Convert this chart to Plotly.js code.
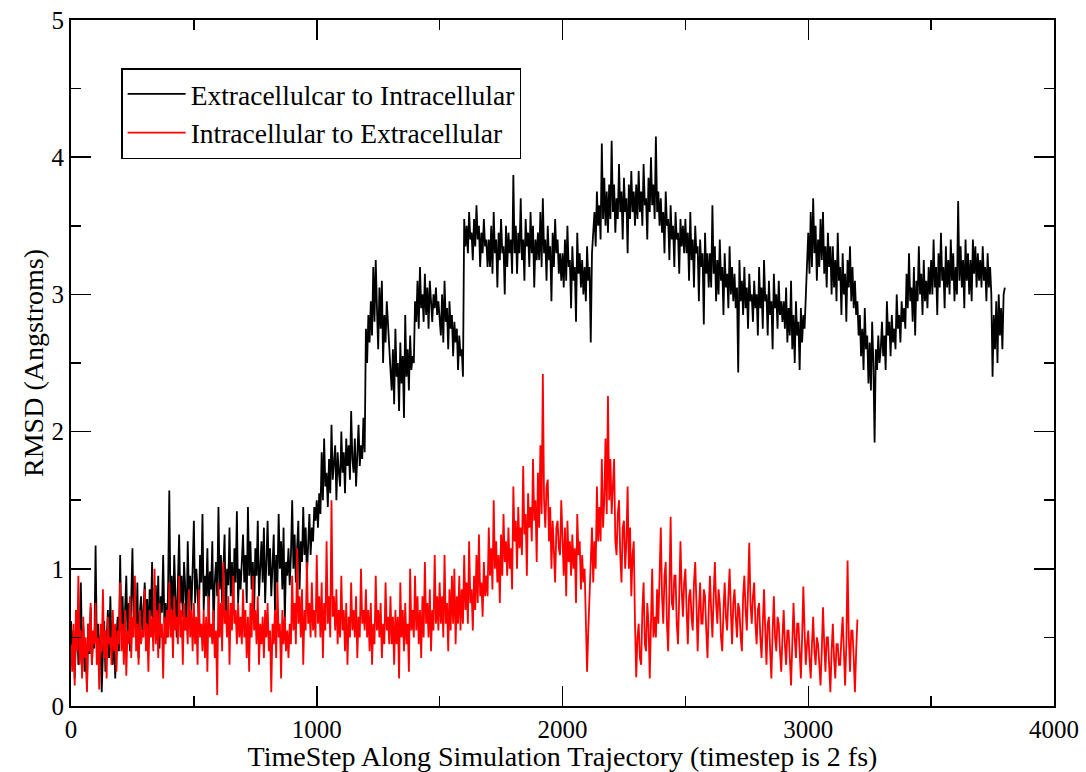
<!DOCTYPE html>
<html>
<head>
<meta charset="utf-8">
<script src="https://cdn.plot.ly/plotly-3.0.1.min.js"></script>
<style>html,body{margin:0;padding:0;background:#fff;}#chart{width:1086px;height:772px;}</style>
</head>
<body>
<div id="chart"></div>
<script>
// timestep spacing of the sampled values
const stepBlack = 5;
const stepRed = 5;

const seriesNames = ["Extracellulcar to Intracellular", "Intracellular to Extracellular"];

// RMSD, one value every 5 timesteps (0..3800), 20 values per row = 100 timesteps
const rmsdExtraToIntra = [
0.62,0.35,0.55,0.2,0.48,0.7,0.3,0.52,0.9,0.4,0.58,0.25,0.45,0.12,0.6,0.38,0.72,0.3,0.5,0.42,
1.17,0.45,0.6,0.3,0.52,0.1,0.4,0.62,0.25,0.55,0.7,0.35,0.8,0.45,0.3,0.58,0.2,0.5,0.65,0.4,
1.1,0.55,0.8,0.45,0.7,0.95,0.5,0.75,0.4,0.85,1.15,0.6,0.72,0.5,0.9,0.35,0.68,0.8,0.55,0.7,
0.9,0.6,0.78,0.45,0.85,0.65,1.05,0.5,0.72,0.88,0.55,0.95,0.42,0.8,0.68,1.1,0.6,0.75,0.5,0.85,
1.57,0.7,0.95,0.6,1.1,0.8,0.5,0.9,1.25,0.75,0.95,0.65,1.05,0.85,0.55,1.2,0.8,0.95,0.7,1.0,
1.35,0.75,1.0,0.85,0.6,1.1,0.9,1.4,0.7,0.95,0.8,1.15,0.65,0.98,0.85,1.2,0.55,0.9,1.05,0.8,
1.45,0.85,1.1,0.75,0.95,1.25,0.6,1.0,0.88,1.3,0.8,1.05,0.7,1.15,0.9,1.42,0.75,1.0,0.85,1.1,
1.25,0.9,1.1,0.75,1.45,0.95,1.2,0.85,1.05,0.65,1.15,0.95,1.35,0.8,1.0,1.2,0.9,1.3,0.75,1.05,
1.35,0.95,1.15,0.8,1.05,1.25,0.7,1.1,0.9,1.4,1.0,1.2,0.85,1.3,0.62,1.05,0.95,1.15,0.88,1.1,
1.5,1.0,1.25,0.9,1.15,1.35,0.85,1.2,1.05,1.45,1.1,1.3,0.95,1.25,1.4,1.1,1.3,1.2,1.45,1.35,
1.5,1.3,1.55,1.4,1.85,1.5,1.95,1.6,1.7,1.45,1.8,1.55,2.05,1.65,1.75,1.9,1.5,1.85,1.7,1.6,
2.0,1.7,1.85,1.55,1.95,1.75,1.9,1.65,2.15,1.8,1.7,1.95,1.6,1.85,2.05,1.75,1.9,1.8,2.1,1.85,
2.75,2.5,2.85,2.65,2.95,2.7,3.2,2.8,3.25,2.9,2.6,3.05,2.75,3.1,2.5,2.85,2.65,2.95,2.75,2.6,
2.45,2.3,2.6,2.2,2.75,2.4,2.5,2.15,2.65,2.35,2.55,2.1,2.85,2.4,2.6,2.3,2.7,2.45,2.55,2.5,
2.95,2.8,3.1,2.75,3.2,2.9,3.0,2.8,3.15,2.85,3.05,2.75,3.1,2.95,2.8,3.0,2.9,3.05,2.85,2.95,
2.85,2.7,3.0,2.65,3.1,2.8,2.9,2.6,2.95,2.75,2.85,2.55,2.8,2.65,2.75,2.45,2.7,2.55,2.6,2.4,
3.55,3.35,3.5,3.3,3.6,3.4,3.45,3.25,3.55,3.35,3.65,3.4,3.5,3.2,3.45,3.3,3.55,3.35,3.4,3.2,
3.4,3.2,3.5,3.15,3.6,3.3,3.4,3.05,3.45,3.25,3.55,3.3,3.35,3.0,3.5,3.2,3.45,3.3,3.4,3.15,
3.87,3.3,3.5,3.15,3.45,3.3,3.7,3.25,3.4,3.1,3.55,3.35,3.45,3.2,3.6,3.3,3.5,3.05,3.4,3.25,
3.45,3.25,3.6,3.2,3.7,3.3,3.4,3.1,3.5,3.25,3.35,2.95,3.45,3.2,3.55,3.3,3.4,3.15,3.3,3.1,
3.3,3.05,3.4,3.1,3.5,3.2,3.25,2.9,3.35,3.1,3.2,2.8,3.45,3.15,3.3,3.05,3.25,3.0,3.2,2.95,
3.35,3.1,3.2,2.65,3.3,3.45,3.6,3.35,3.75,3.5,3.65,3.4,4.1,3.55,3.85,3.5,3.75,3.45,3.8,3.55,
4.12,3.6,3.8,3.45,3.7,3.55,3.95,3.6,3.75,3.4,3.85,3.6,3.7,3.3,3.8,3.55,3.9,3.6,3.75,3.5,
3.8,3.55,3.9,3.6,3.75,3.5,3.95,3.65,3.7,3.4,3.85,3.6,4.0,3.65,3.8,3.55,4.15,3.6,3.75,3.5,
3.7,3.45,3.6,3.3,3.75,3.5,3.55,3.25,3.65,3.4,3.5,3.2,3.6,3.4,3.45,3.15,3.55,3.35,3.5,3.3,
3.55,3.3,3.45,3.1,3.6,3.25,3.4,3.05,3.5,3.3,3.35,2.95,3.4,3.2,3.3,2.78,3.45,3.15,3.3,3.05,
3.3,3.05,3.65,3.15,3.35,2.95,3.25,3.0,3.4,3.1,3.2,2.85,3.3,3.05,3.15,2.9,3.35,3.0,3.2,2.95,
3.15,2.9,3.05,2.43,3.25,2.95,3.1,2.85,3.2,2.9,3.05,2.75,3.15,2.95,3.0,2.8,3.1,2.9,3.0,2.7,
3.2,2.9,3.05,2.75,3.25,2.95,3.0,2.7,3.1,2.85,2.95,2.6,3.15,2.9,3.0,2.75,3.1,2.85,2.95,2.8,
2.95,2.75,3.05,2.65,2.9,2.7,3.1,2.6,2.85,2.5,2.95,2.7,2.8,2.45,2.9,2.65,2.85,2.75,3.0,3.15,
3.45,3.15,3.6,3.2,3.7,3.3,3.5,3.1,3.4,3.2,3.55,3.25,3.6,3.15,3.35,3.05,3.45,3.2,3.35,3.0,
3.35,3.05,3.25,2.95,3.45,3.1,3.2,2.85,3.3,3.0,3.15,2.8,3.25,3.05,3.35,2.95,3.2,2.9,3.1,2.85,
2.95,2.7,2.85,2.55,2.75,2.45,2.9,2.6,2.7,2.35,2.65,2.3,2.8,2.5,1.92,2.6,2.45,2.7,2.5,2.6,
2.8,2.55,2.7,2.45,2.95,2.7,2.8,2.55,2.85,2.65,2.75,2.6,3.0,2.75,2.85,2.65,2.95,2.8,2.9,2.75,
3.15,2.9,3.3,2.95,3.05,2.8,3.2,2.7,3.1,2.95,3.35,3.0,3.15,2.85,3.25,2.95,3.1,2.9,3.2,3.0,
3.25,3.0,3.4,3.05,3.2,2.85,3.3,3.05,3.45,3.1,3.2,2.9,3.35,3.05,3.25,3.0,3.4,3.1,3.3,2.95,
3.2,3.0,3.68,3.1,3.35,3.05,3.25,2.9,3.4,3.1,3.3,3.0,3.25,2.95,3.4,3.15,3.35,3.05,3.3,3.1,
3.25,3.05,3.35,3.1,3.2,2.95,3.3,3.05,3.2,3.0,2.4,2.85,2.6,2.95,2.5,3.0,2.7,2.9,2.6,3.0,
3.05
];

// RMSD, one value every 5 timesteps (0..3200), 20 values per row = 100 timesteps
const rmsdIntraToExtra = [
0.45,0.25,0.6,0.15,0.7,0.4,0.95,0.3,0.55,0.2,0.65,0.35,0.5,0.1,0.6,0.4,0.75,0.3,0.55,0.45,
0.75,0.3,0.5,0.12,0.6,0.4,0.85,0.35,0.55,0.2,0.65,0.45,0.5,0.3,0.7,0.4,0.6,0.25,0.55,0.45,
0.9,0.4,0.6,0.3,0.7,0.22,0.55,0.45,0.8,0.35,0.65,0.5,0.95,0.4,0.6,0.3,0.7,0.45,0.55,0.5,
0.85,0.4,0.6,0.25,0.7,0.5,0.65,0.4,1.0,0.45,0.7,0.35,0.75,0.5,0.6,0.2,0.65,0.45,0.7,0.5,
0.9,0.5,0.7,0.35,0.8,0.55,0.65,0.45,0.95,0.5,0.7,0.3,0.75,0.55,0.65,0.45,0.85,0.5,0.7,0.4,
0.75,0.45,0.65,0.3,0.85,0.5,0.6,0.4,0.7,0.35,0.65,0.25,0.8,0.5,0.6,0.45,0.7,0.35,0.55,0.08,
0.9,0.5,0.75,0.4,1.05,0.6,0.7,0.5,0.8,0.3,0.75,0.55,0.95,0.6,0.7,0.45,0.75,0.5,0.65,0.45,
0.85,0.5,0.7,0.35,0.65,0.25,0.75,0.5,0.95,0.55,0.7,0.45,0.8,0.3,0.6,0.45,0.65,0.35,0.7,0.5,
0.75,0.4,0.55,0.1,0.6,0.45,0.7,0.35,0.9,0.5,0.6,0.2,0.7,0.45,0.65,0.4,0.55,0.35,0.6,0.45,
0.95,0.55,0.75,0.45,1.15,0.6,0.8,0.5,0.85,0.3,0.7,0.55,1.05,0.6,0.75,0.5,0.9,0.55,0.7,0.5,
1.1,0.6,0.8,0.5,0.9,0.35,0.75,0.55,1.2,0.6,0.8,0.5,1.5,0.65,0.8,0.55,0.85,0.45,0.7,0.5,
0.95,0.55,0.7,0.4,0.75,0.3,0.65,0.5,0.9,0.55,0.7,0.5,0.8,0.35,0.65,0.5,1.0,0.6,0.7,0.55,
0.85,0.5,0.7,0.4,0.75,0.3,0.6,0.45,0.95,0.55,0.7,0.5,0.75,0.35,0.6,0.45,0.9,0.55,0.65,0.45,
0.8,0.45,0.65,0.3,0.7,0.45,0.65,0.2,0.9,0.5,0.7,0.4,0.75,0.45,0.6,0.25,1.0,0.55,0.7,0.5,
0.95,0.55,0.8,0.45,0.7,0.35,0.8,0.5,1.05,0.6,0.75,0.5,0.85,0.4,0.7,0.55,1.1,0.6,0.8,0.55,
0.9,0.6,0.8,0.5,1.1,0.6,0.75,0.4,0.85,0.55,0.95,0.6,1.0,0.45,0.8,0.6,0.95,0.55,0.85,0.6,
1.1,0.7,0.9,0.6,1.2,0.75,0.85,0.55,0.95,0.7,1.1,0.75,1.25,0.8,0.9,0.65,1.05,0.8,0.95,0.8,
1.3,0.95,1.15,0.85,1.5,1.0,1.2,0.9,1.1,0.75,1.25,0.95,1.4,1.05,1.2,0.95,1.3,1.0,1.15,0.85,
1.6,1.2,1.35,1.0,1.45,1.15,1.3,1.1,1.75,1.25,1.4,0.95,1.55,1.3,1.45,1.2,1.8,1.35,1.5,1.05,
1.7,1.3,1.9,1.4,2.42,1.5,1.3,1.6,1.65,1.2,1.45,1.0,1.35,1.1,0.9,1.3,1.35,1.15,1.1,1.5,
1.2,0.95,1.3,0.8,1.35,1.05,1.2,0.95,1.25,1.0,1.15,0.75,1.4,1.1,1.2,0.85,1.1,0.9,1.0,0.7,
0.25,0.55,0.8,1.0,1.3,0.9,1.2,1.0,1.6,1.2,1.45,1.2,1.8,1.3,1.5,1.95,1.4,2.26,1.5,1.8,
1.4,1.6,1.8,1.2,1.1,1.4,1.5,1.1,0.9,1.3,1.35,1.0,1.2,1.6,1.0,1.3,0.8,1.1,1.2,0.6,
0.21,0.5,0.6,0.35,0.3,0.7,0.9,0.45,0.4,0.75,0.6,0.2,0.55,1.0,0.5,0.65,0.5,0.85,0.6,0.95,
1.3,0.8,0.6,0.95,1.05,0.6,0.4,0.85,1.38,0.75,0.7,0.95,0.95,0.6,0.45,0.8,1.2,0.85,0.65,0.9,
1.0,0.7,0.45,0.8,0.85,0.65,0.55,0.9,1.05,0.75,0.4,0.7,0.9,0.6,0.6,0.85,0.8,0.55,0.35,0.7,
0.95,0.7,0.5,0.8,1.05,0.75,0.6,0.85,0.75,0.5,0.4,0.7,0.9,0.65,0.55,0.8,1.0,0.7,0.45,0.75,
0.85,0.65,0.5,0.75,0.7,0.5,0.4,0.8,0.95,0.7,0.55,0.85,1.19,0.75,0.6,0.8,0.9,0.6,0.45,0.7,
0.75,0.5,0.35,0.6,0.85,0.55,0.3,0.6,0.65,0.4,0.2,0.55,0.8,0.5,0.4,0.65,0.6,0.4,0.25,0.5,
0.7,0.45,0.3,0.55,0.55,0.35,0.15,0.45,0.75,0.5,0.35,0.6,0.6,0.4,0.2,0.5,0.87,0.55,0.3,0.45,
0.55,0.35,0.2,0.45,0.65,0.4,0.3,0.5,0.45,0.3,0.15,0.4,0.72,0.45,0.25,0.5,0.5,0.3,0.1,0.4,
0.6,0.35,0.2,0.45,0.45,0.3,0.3,0.5,0.65,0.4,0.15,0.45,1.06,0.5,0.25,0.55,0.55,0.35,0.1,0.4,
0.63
];

const tBlack = rmsdExtraToIntra.map((_, i) => i * stepBlack);
const tRed = rmsdIntraToExtra.map((_, i) => i * stepRed);

const font = "Liberation Serif, Times New Roman, serif";

const traces = [
  {x: tBlack, y: rmsdExtraToIntra, type: "scatter", mode: "lines", name: seriesNames[0],
   line: {color: "#000000", width: 1.8}},
  {x: tRed, y: rmsdIntraToExtra, type: "scatter", mode: "lines", name: seriesNames[1],
   line: {color: "#ff0000", width: 1.8}}
];

const axisCommon = {
  showline: true, linecolor: "#000", linewidth: 2, mirror: "allticks",
  ticks: "inside", ticklen: 20, tickwidth: 1.5, tickcolor: "#000",
  showgrid: false, zeroline: false,
  tickfont: {family: font, size: 25, color: "#000"}
};

const layout = {
  width: 1086, height: 772,
  paper_bgcolor: "#fff", plot_bgcolor: "#fff",
  margin: {l: 71, r: 32, t: 20, b: 66},
  showlegend: true,
  legend: {
    x: 0.051, y: 0.93, xanchor: "left", yanchor: "top",
    bordercolor: "#000", borderwidth: 1.5, bgcolor: "#fff",
    font: {family: font, size: 27.5, color: "#000"},
    itemwidth: 58,
    tracegroupgap: 0
  },
  xaxis: Object.assign({}, axisCommon, {
    range: [0, 4000], dtick: 1000, tick0: 0,
    minor: {dtick: 500, ticklen: 10, ticks: "inside", tickcolor: "#000", tickwidth: 1.5},
    title: {text: "TimeStep Along Simulation Trajectory (timestep is 2 fs)", font: {family: font, size: 28, color: "#000"}, standoff: 0}
  }),
  yaxis: Object.assign({}, axisCommon, {
    range: [0, 5], dtick: 1, tick0: 0,
    minor: {dtick: 0.5, ticklen: 10, ticks: "inside", tickcolor: "#000", tickwidth: 1.5},
    title: {text: "RMSD (Angstroms)", font: {family: font, size: 28, color: "#000"}, standoff: 0}
  })
};

Plotly.newPlot("chart", traces, layout, {displayModeBar: false, staticPlot: true});
</script>
</body>
</html>
